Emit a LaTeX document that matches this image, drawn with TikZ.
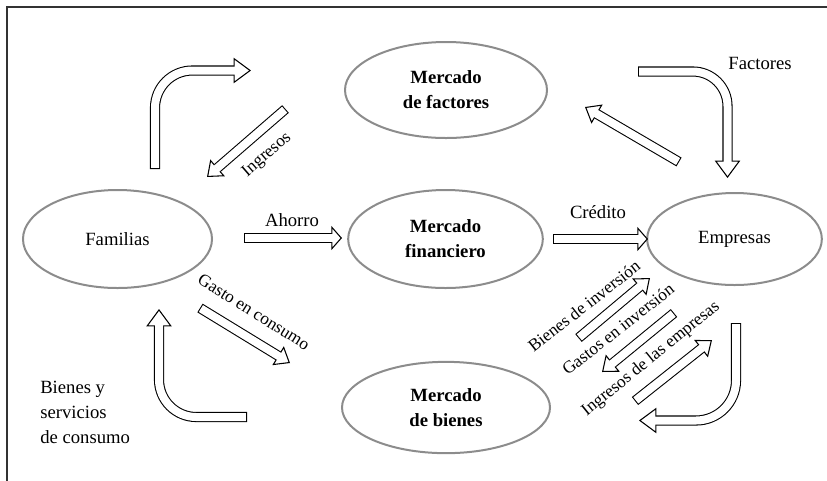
\documentclass[tikz,border=0pt]{standalone}
\usepackage{fontspec}
\setmainfont{Liberation Serif}
\usetikzlibrary{shapes.geometric,arrows.meta}
\definecolor{r140g140b140}{rgb}{0.550000,0.550000,0.550000}%
\definecolor{r51g51b51}{rgb}{0.200000,0.200000,0.200000}%
\tikzset{
  market/.style={ellipse, draw=r140g140b140, line width=1.5pt, inner sep=0pt,
    align=center, font=\fontsize{14}{18.75}\selectfont},
  tag/.style={inner sep=0pt, align=left, font=\fontsize{14}{18.75}\selectfont},
  tilted/.style={inner sep=0pt, font=\fontsize{13}{15}\selectfont},
  flow/.style 2 args={draw=white, line width=6pt, shorten <=0.8pt, shorten >=#1-1.2pt,
    preaction={draw=black, line width=7.6pt, shorten <=0pt, shorten >=0pt,
      -{Triangle[fill=white, line width=0.8pt, length=#1, width=#2]}}},
  bigflow/.style={flow={13pt}{19pt}},
  thinflow/.style={flow={10.5pt}{16.5pt}},
  stubflow/.style={flow={8pt}{18pt}},
}
\begin{document}
\begin{tikzpicture}[x=0.75pt, y=-0.75pt]
  \useasboundingbox (0,0) rectangle (827,480);
  % Drawing frame
  \draw [r51g51b51, line width=1.5pt] (7,7) rectangle (840,495);%

  % Drawing markets and agents
  \node [market, minimum width=141.75pt, minimum height=73.5pt] (fam) at (117.5,239) {Familias};%
  \node [market, minimum width=151.5pt, minimum height=72pt] (fac) at (446,90) {\bfseries Mercado\\\bfseries de factores};%
  \node [market, minimum width=146pt, minimum height=73.5pt] (fin) at (445.5,239) {\bfseries Mercado\\\bfseries financiero};%
  \node [market, minimum width=131pt, minimum height=69pt] (emp) at (734.5,239) {Empresas};%
  \node [market, minimum width=156pt, minimum height=68.5pt] (bie) at (446,407.5) {\bfseries Mercado\\\bfseries de bienes};%

  % Arrow end points
  \coordinate (famup) at (155,169);  \coordinate (facin) at (251,70.5);%
  \coordinate (ingA) at (285.5,109); \coordinate (ingB) at (207,177);%
  \coordinate (facout) at (638,71.5); \coordinate (empin) at (727.5,178);%
  \coordinate (empup) at (679,162);  \coordinate (facback) at (585,107);%
  \coordinate (ahoA) at (244,238);   \coordinate (ahoB) at (342,238);%
  \coordinate (creA) at (553,239);   \coordinate (creB) at (648,239);%
  \coordinate (gasA) at (200,308);   \coordinate (gasB) at (290,363);%
  \coordinate (bieout) at (247,417); \coordinate (famin) at (159,309);%
  \coordinate (empdown) at (736,323); \coordinate (bieback) at (639,420.5);%
  \coordinate (binA) at (578.5,338); \coordinate (binB) at (650,278);%
  \coordinate (ginA) at (674,313);   \coordinate (ginB) at (602,372);%
  \coordinate (iemA) at (635,401);   \coordinate (iemB) at (712,340);%

  % Drawing block arrows
  \draw [bigflow, rounded corners=28pt] (famup) |- (facin);%
  \draw [thinflow] (ingA) -- (ingB);%
  \draw [bigflow, rounded corners=26pt] (facout) -| (empin);%
  \draw [thinflow] (empup) -- (facback);%
  \draw [stubflow] (ahoA) -- (ahoB);%
  \draw [stubflow] (creA) -- (creB);%
  \draw [thinflow] (gasA) -- (gasB);%
  \draw [bigflow, rounded corners=28pt] (bieout) -| (famin);%
  \draw [bigflow, rounded corners=30pt] (empdown) |- (bieback);%
  \draw [thinflow] (binA) -- (binB);%
  \draw [thinflow] (ginA) -- (ginB);%
  \draw [thinflow] (iemA) -- (iemB);%

  % Drawing labels
  \node [tag] (lfac) at (760,63) {Factores};%
  \node [tag] (laho) at (292,220) {Ahorro};%
  \node [tag] (lcre) at (598,212) {Crédito};%
  \node [tag, anchor=west] (lbie) at (40,412) {Bienes y\\servicios\\de consumo};%
  \node [tilted, rotate=41] (ling) at (267,155) {Ingresos};%
  \node [tilted, rotate=-32] (lgas) at (254,312) {Gasto en consumo};%
  \node [tilted, rotate=38] (lbin) at (584,306) {Bienes de inversión};%
  \node [tilted, rotate=38] (lgin) at (618,329) {Gastos en inversión};%
  \node [tilted, rotate=39] (liem) at (651,359) {Ingresos de las empresas};%
\end{tikzpicture}
\end{document}
